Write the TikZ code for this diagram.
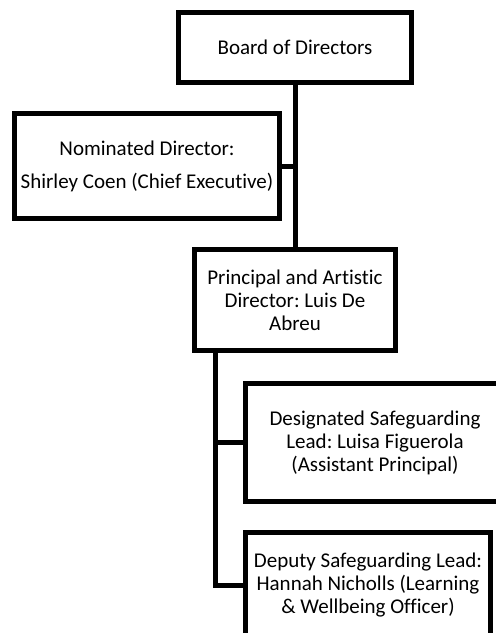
\documentclass[tikz,border=0pt]{standalone}
\usepackage{fontspec}
\setmainfont[Ligatures=NoCommon]{Carlito}
\frenchspacing
\usetikzlibrary{calc}
\begin{document}
\begin{tikzpicture}[x=1pt,y=-1pt,
  box/.style={draw, line width=5pt, inner sep=0pt, outer sep=0pt, align=center,
    font=\fontsize{21}{23}\selectfont},
  link/.style={line width=5pt}]
\useasboundingbox (0,0) rectangle (496,633);
\node[box, minimum width=233pt, minimum height=70pt] (board) at (295,47.5) {Board of Directors};
\node[box, minimum width=265pt, minimum height=105pt] (nom) at (147,166) {Nominated Director:\\[10pt]Shirley Coen (Chief Executive)};
\node[box, minimum width=201pt, minimum height=101pt] (prin) at (295,300) {Principal and Artistic\\Director: Luis De\\Abreu};
\node[box, minimum width=259pt, minimum height=118pt] (dsl) at (375,442.5) {Designated Safeguarding\\Lead: Luisa Figuerola\\(Assistant Principal)};
\node[box, minimum width=245pt, minimum height=105pt] (dep) at (368,585) {Deputy Safeguarding Lead:\\Hannah Nicholls (Learning\\\& Wellbeing Officer)};
\draw[link] (board.south) -- (prin.north);
\draw[link] (nom.east) -- (board.south |- nom.east);
\coordinate (p1) at ($(prin.south west)+(20.5,0)$);
\draw[link] (p1) |- (dep.west);
\draw[link] (p1 |- dsl.west) -- (dsl.west);
\end{tikzpicture}
\end{document}
